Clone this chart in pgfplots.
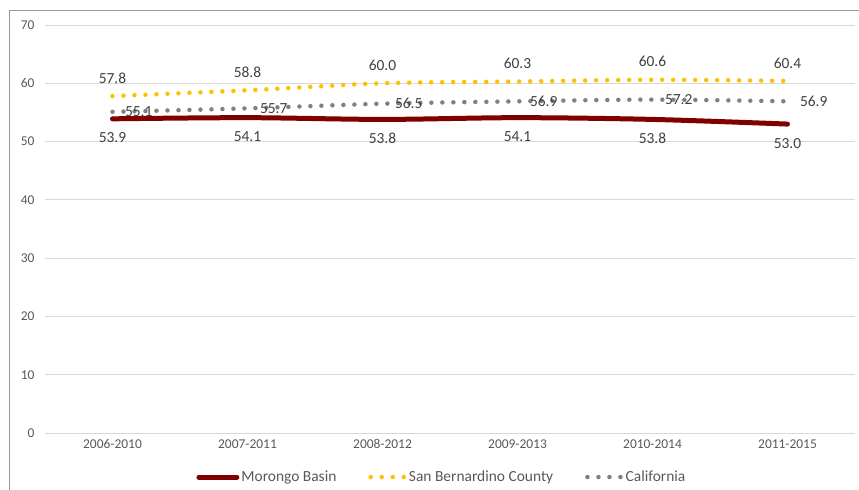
\documentclass[border=0pt]{standalone}
\usepackage{fontspec}
\setmainfont{Carlito}
\usepackage{pgfplots}
\pgfplotsset{compat=1.18}
\definecolor{mred}{HTML}{7F0000}
\definecolor{sbgold}{HTML}{FFC000}
\definecolor{cagray}{HTML}{808080}
\definecolor{gridc}{HTML}{D9D9D9}
\definecolor{tickc}{HTML}{595959}
\definecolor{labc}{HTML}{404040}
\begin{document}
\begin{tikzpicture}[x=1bp,y=1bp]
\path[use as bounding box] (0,0) rectangle (859,490);
\draw[color=black!40, line width=1bp] (9,0) -- (9,479) -- (859,479);
\begin{axis}[
  at={(45bp,57bp)}, anchor=south west,
  width=810bp, height=408bp, scale only axis,
  xmin=-0.5, xmax=5.5, ymin=0, ymax=70,
  ytick={0,10,...,70},
  xtick={0,...,5},
  xticklabels={2006-2010,2007-2011,2008-2012,2009-2013,2010-2014,2011-2015},
  axis line style={draw=none},
  ymajorgrids, grid style={gridc, line width=0.75bp},
  major tick length=0pt,
  tick label style={font=\fontsize{13.5}{16}\selectfont, text=tickc},
  yticklabel style={xshift=-7bp},
  xticklabel style={yshift=-3bp},
  /pgf/number format/assume math mode=true,
  clip=false,
  legend columns=3,
  legend style={at={(0.49,-0.108)}, anchor=center, draw=none, fill=none,
    font=\fontsize{15.5}{18}\selectfont, text=tickc,
    /tikz/every even column/.append style={column sep=30bp}},
  legend cell align=left,
  nodes near coords={\pgfmathprintnumber[fixed,fixed zerofill,precision=1,assume math mode=true]{\pgfplotspointmeta}},
  every node near coord/.append style={font=\fontsize{15.5}{18}\selectfont, text=labc},
]
\addplot[mred, line width=5bp, line cap=round, smooth, no markers,
  every node near coord/.append style={anchor=center, yshift=-19bp},
  legend image code/.code={\draw[mred, line width=5bp, line cap=round] (0,0) -- (38bp,0);}]
  coordinates {(0,53.9) (1,54.1) (2,53.8) (3,54.1) (4,53.8) (5,53.0)};
\addlegendentry{Morongo Basin}
\addplot[sbgold, line width=4.5bp, line cap=round, dash pattern=on 0pt off 11bp, smooth, no markers,
  every node near coord/.append style={anchor=center, yshift=18bp},
  legend image code/.code={\draw[sbgold, line width=4.5bp, line cap=round, dash pattern=on 0pt off 11bp] (0,0) -- (34bp,0);}]
  coordinates {(0,57.8) (1,58.8) (2,60.0) (3,60.3) (4,60.6) (5,60.4)};
\addlegendentry{San Bernardino County}
\addplot[cagray, line width=4.5bp, line cap=round, dash pattern=on 0pt off 11bp, smooth, no markers,
  every node near coord/.append style={anchor=west, xshift=7bp},
  legend image code/.code={\draw[cagray, line width=4.5bp, line cap=round, dash pattern=on 0pt off 11bp] (0,0) -- (34bp,0);}]
  coordinates {(0,55.1) (1,55.7) (2,56.5) (3,56.9) (4,57.2) (5,56.9)};
\addlegendentry{California}
\end{axis}
\end{tikzpicture}
\end{document}
